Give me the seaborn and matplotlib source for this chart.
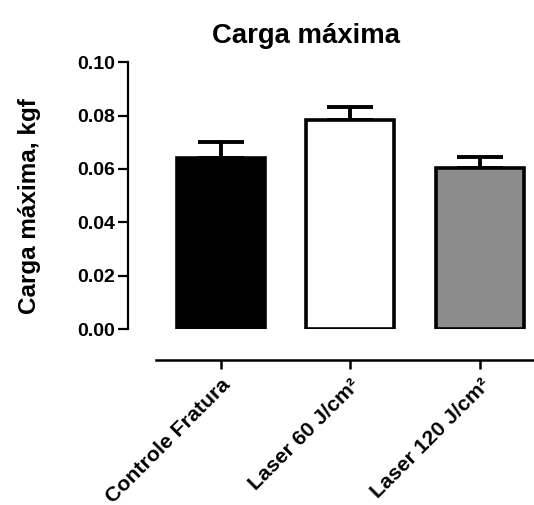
import matplotlib
matplotlib.use("Agg")
import matplotlib.pyplot as plt
import seaborn as sns
import numpy as np
import pandas as pd

categories = ["Controle Fratura", "Laser 60 J/cm²", "Laser 120 J/cm²"]
means = [0.0640, 0.0784, 0.0602]
errors = [0.0060, 0.0048, 0.0042]
bar_colors = ["#000000", "#ffffff", "#8c8c8c"]
yticks = [0.00, 0.02, 0.04, 0.06, 0.08, 0.10]
title = "Carga máxima"
ylabel = "Carga máxima, kgf"

sns.set_theme(style="white")
plt.rcParams["font.family"] = ["Liberation Sans", "DejaVu Sans"]
plt.rcParams["font.weight"] = "bold"
for k in ["text.color", "axes.labelcolor", "xtick.color", "ytick.color"]:
    plt.rcParams[k] = "black"

df = pd.DataFrame({"grupo": categories, "valor": means})

fig = plt.figure(figsize=(5.34, 5.05), dpi=100)
ax = fig.add_axes([0.2391, 0.3485, 0.7609, 0.5281])

sns.barplot(data=df, x="grupo", y="valor", hue="grupo", palette=bar_colors,
            order=categories, hue_order=categories, legend=False,
            edgecolor="black", linewidth=2.6, width=0.68, errorbar=None,
            ax=ax, zorder=3)

xpos = np.arange(len(categories))
ax.errorbar(xpos, means, yerr=[np.zeros(len(means)), errors], fmt="none",
            ecolor="black", elinewidth=2.8, capsize=16.8, capthick=2.8, zorder=2)

for s in ["top", "right"]:
    ax.spines[s].set_visible(False)
ax.spines["left"].set_linewidth(1.6)
ax.spines["left"].set_color("black")
ax.spines["bottom"].set_linewidth(1.8)
ax.spines["bottom"].set_color("black")
ax.spines["bottom"].set_position(("outward", 22))
ax.spines["bottom"].set_bounds(-0.5, 2.6)
ax.spines["left"].set_bounds(0, 0.10)

ax.tick_params(axis="y", direction="out", length=7, width=1.6, color="black", pad=2, left=True)
ax.tick_params(axis="x", direction="out", length=6.5, width=1.8, color="black", pad=5, bottom=True)
ax.grid(False)

ax.set_xlim(-0.717, 2.416)
ax.set_ylim(0, 0.10)
ax.set_yticks(yticks)
ax.set_yticklabels([f"{v:.2f}" for v in yticks], fontsize=14, fontweight="bold")
ax.set_xticks(xpos)
ax.set_xticklabels(categories, rotation=45, ha="right", rotation_mode="anchor",
                   fontsize=15.3, fontweight="bold")

ax.set_xlabel("")
ax.set_ylabel(ylabel, fontsize=17.5, fontweight="bold")
ax.yaxis.set_label_coords(-0.213, 0.46)
ax.set_title(title, fontsize=19.8, fontweight="bold", pad=14)
ax.title.set_position((0.44, 1.0))

fig.savefig("out.png", dpi=100)
